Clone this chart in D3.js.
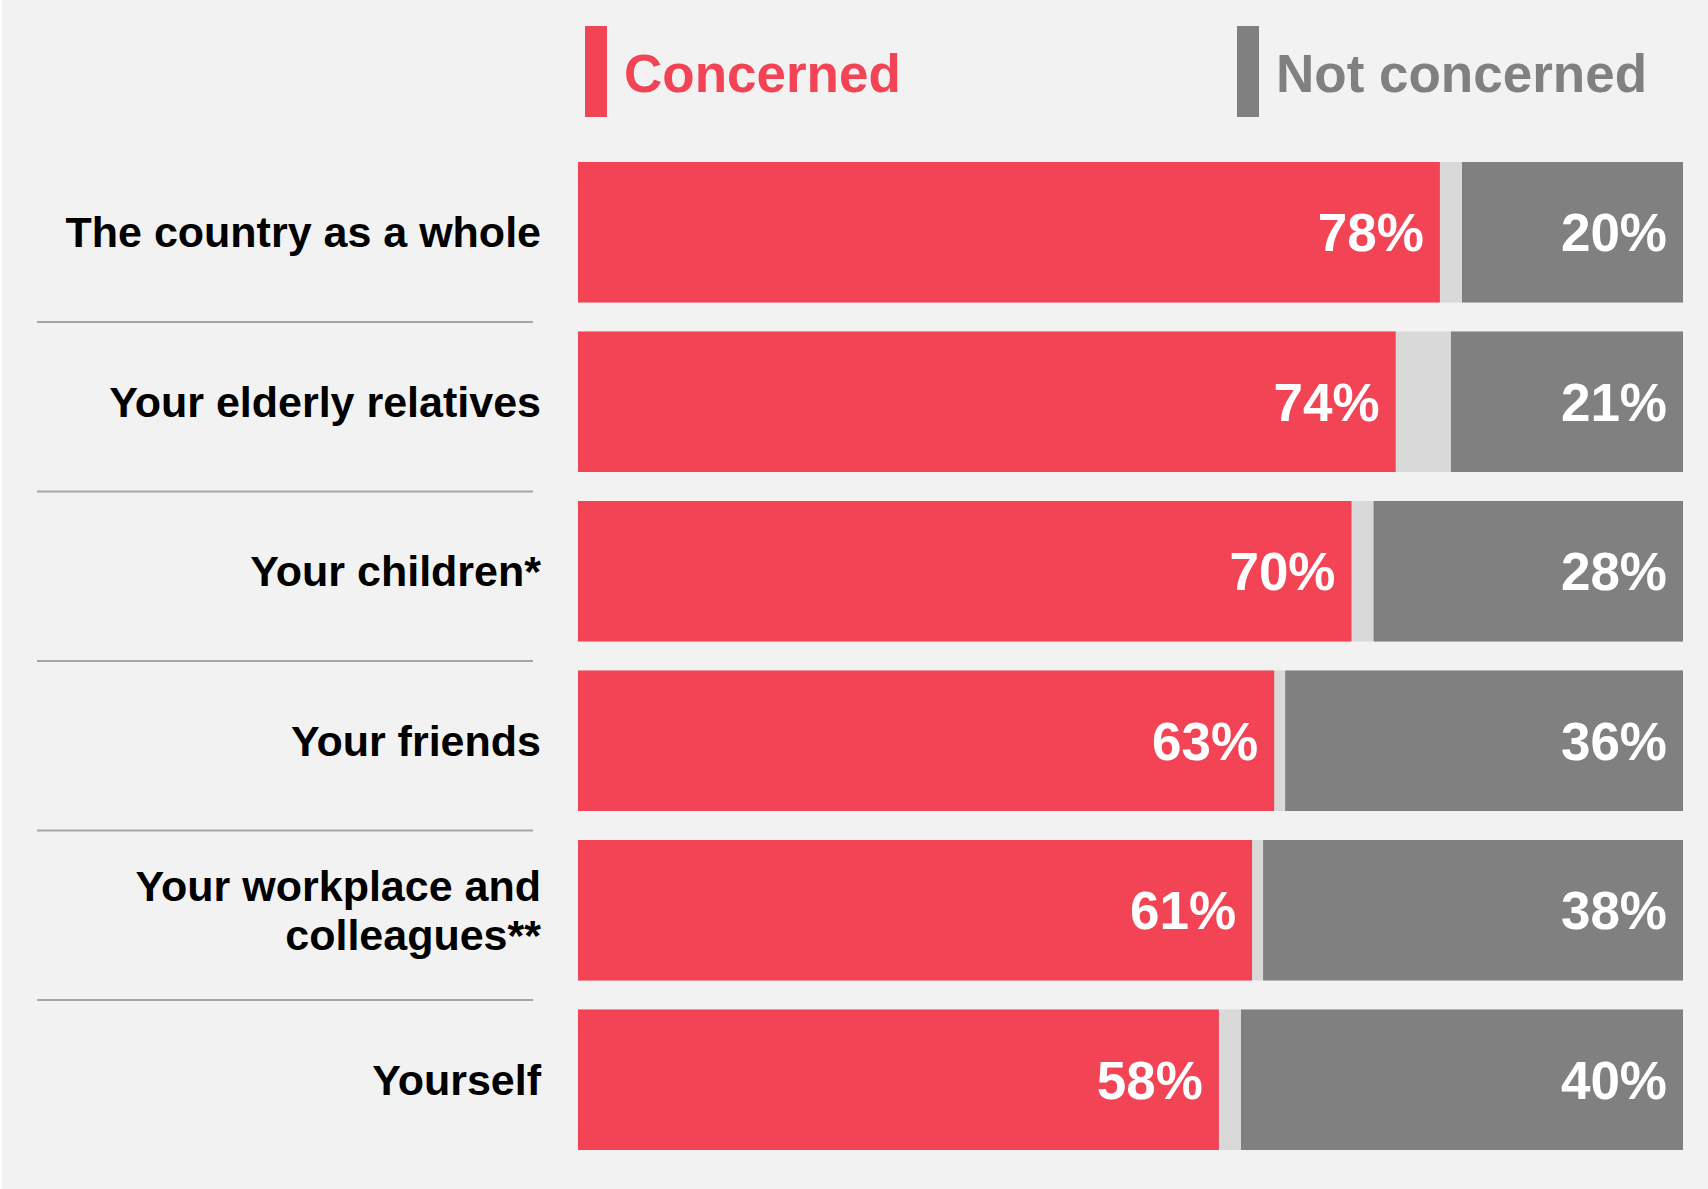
<!DOCTYPE html>
<html>
<head>
<meta charset="utf-8">
<script src="https://cdn.jsdelivr.net/npm/d3@7/dist/d3.min.js"></script>
<style>
  html, body { margin: 0; padding: 0; background: #f2f2f2; }
  svg { display: block; font-family: "Liberation Sans", Arial, sans-serif; }
</style>
</head>
<body>
<div class="container"></div>
<script>
// 100% stacked bars: concerned / don't know / not concerned

var categories = ["The country as a whole", "Your elderly relatives", "Your children*",
                  "Your friends", "Your workplace and\ncolleagues**", "Yourself"];
var concerned    = [78, 74, 70, 63, 61, 58];
var dontKnow     = [2, 5, 2, 1, 1, 2];
var notConcerned = [20, 21, 28, 36, 38, 40];
var legendLabels = ["Concerned", "Not concerned"];

var width = 1708;
var height = 1189;
var red = "#f24454";
var grey = "#808080";
var light = "#d9d9d9";

var svg = d3.select(".container")
    .append("svg")
    .attr("width", width)
    .attr("height", height);

svg.append("rect")
    .attr("width", width)
    .attr("height", height)
    .attr("fill", "#f2f2f2");

// thin white edge on the left like the original
svg.append("rect")
    .attr("width", 2)
    .attr("height", height)
    .attr("fill", "#ffffff");

var x = d3.scaleLinear().domain([0, 100]).range([578, 1683]);
var y = d3.scaleBand()
    .domain(categories)
    .range([162, 1150])
    .paddingInner(0.171)
    .paddingOuter(0);

var rows = categories.map(function(c, i)
{
    return {name: c, c: concerned[i], d: dontKnow[i], n: notConcerned[i]};
});

var row = svg.selectAll("g.row")
    .data(rows)
    .enter()
    .append("g")
    .attr("class", "row")
    .attr("transform", function(d) { return "translate(0," + y(d.name) + ")"; });

// light middle segment spans everything; red and grey drawn over it
row.append("rect")
    .attr("x", x(0))
    .attr("width", x(100) - x(0))
    .attr("height", y.bandwidth())
    .attr("fill", light);

row.append("rect")
    .attr("x", x(0))
    .attr("width", function(d) { return x(d.c) - x(0); })
    .attr("height", y.bandwidth())
    .attr("fill", red);

row.append("rect")
    .attr("x", function(d) { return x(100 - d.n); })
    .attr("width", function(d) { return x(100) - x(100 - d.n); })
    .attr("height", y.bandwidth())
    .attr("fill", grey);

// value labels
row.append("text")
    .attr("x", function(d) { return x(d.c) - 16; })
    .attr("y", y.bandwidth() / 2 + 19)
    .attr("text-anchor", "end")
    .attr("font-size", 53)
    .attr("font-weight", "bold")
    .attr("fill", "#ffffff")
    .text(function(d) { return d.c + "%"; });

row.append("text")
    .attr("x", x(100) - 16)
    .attr("y", y.bandwidth() / 2 + 19)
    .attr("text-anchor", "end")
    .attr("font-size", 53)
    .attr("font-weight", "bold")
    .attr("fill", "#ffffff")
    .text(function(d) { return d.n + "%"; });

// category labels (may wrap on \n)
row.append("text")
    .attr("text-anchor", "end")
    .attr("font-size", 43)
    .attr("font-weight", "bold")
    .attr("fill", "#000000")
    .each(function(d)
    {
        var lines = d.name.split("\n");
        var lh = 49;
        var t = d3.select(this);
        lines.forEach(function(l, k)
        {
            t.append("tspan")
                .attr("x", 541)
                .attr("y", y.bandwidth() / 2 + 15 + (k - (lines.length - 1) / 2) * lh)
                .text(l);
        });
    });

// separator lines between rows
var gap = y.step() - y.bandwidth();
svg.selectAll("line.sep")
    .data(categories.slice(0, -1))
    .enter()
    .append("line")
    .attr("class", "sep")
    .attr("x1", 37)
    .attr("x2", 533)
    .attr("y1", function(c) { return y(c) + y.bandwidth() + gap / 2 + 5; })
    .attr("y2", function(c) { return y(c) + y.bandwidth() + gap / 2 + 5; })
    .attr("stroke", "#a6a6a6")
    .attr("stroke-width", 2);

// legend
var legend = svg.selectAll("g.legend")
    .data(legendLabels)
    .enter()
    .append("g")
    .attr("class", "legend")
    .attr("transform", function(d, i) { return "translate(" + (i === 0 ? 585 : 1237) + ",26)"; });

legend.append("rect")
    .attr("width", 22)
    .attr("height", 91)
    .attr("fill", function(d, i) { return i === 0 ? red : grey; });

legend.append("text")
    .attr("x", 39)
    .attr("y", 66)
    .attr("font-size", 53)
    .attr("font-weight", "bold")
    .attr("fill", function(d, i) { return i === 0 ? red : grey; })
    .text(function(d) { return d; });
</script>
</body>
</html>
